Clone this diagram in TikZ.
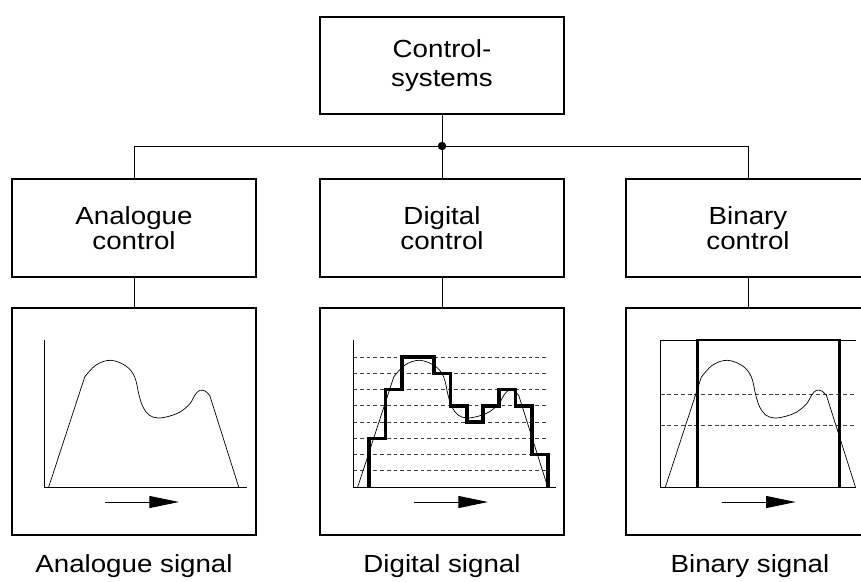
\documentclass[tikz,border=0pt]{standalone}
\usepackage{fontspec}
\setmainfont{Liberation Sans}[FakeStretch=1.12]
\usetikzlibrary{arrows.meta}

\tikzset{
  wire/.style={line width=0.5pt},
  block/.style={draw, line width=1.1pt, minimum width=6.1cm, inner sep=0pt, align=center},
  topbox/.style={block, minimum height=2.425cm, font=\fontsize{17.6}{20.8}\selectfont},
  ctrlbox/.style={block, minimum height=2.45cm, font=\fontsize{17.6}{17.8}\selectfont},
  sigbox/.style={block, minimum height=5.675cm},
  caption/.style={anchor=base, font=\fontsize{17.6}{20}\selectfont},
  level/.style={dash pattern=on 2.8pt off 2pt, line width=0.45pt, black!75},
  stair/.style={line width=2.5pt, line join=miter},
  onoff/.style={line width=2pt, line join=miter},
  flow/.style={line width=0.7pt, -{Triangle[length=21pt, width=8.5pt]}}
}
\newcommand{\drawsignal}{%
  \draw[wire] (4.7,0) -- plot[smooth, tension=0.6] coordinates {(40.7,110) (52,122) (66.7,126.7) (82,121)
    (90.7,110) (95,92) (99,80) (105,72) (114,69) (126,71) (136,75) (145.7,83) (151,92)
    (155.7,96.7) (161,96) (165.7,91.7)} -- (194.7,0);
  \draw[flow] (61,-15) -- (135,-15);}

\begin{document}
\begin{tikzpicture}[x=0.025cm,y=-0.025cm]
  \useasboundingbox (0,0) rectangle (861,581);
  \clip (0,0) rectangle (861,581);

  \node[topbox] (sys) at (442,65.5) {Control-\\systems};
  \coordinate (jn) at (442,146);

  \node[ctrlbox] (ana) at (134,228) {Analogue\\control};
  \node[ctrlbox] (dig) at (442,228) {Digital\\control};
  \node[ctrlbox] (bin) at (748,228) {Binary\\control};

  \node[sigbox] (anasig) at (134,421.5) {};
  \node[sigbox] (digsig) at (442,421.5) {};
  \node[sigbox] (binsig) at (748,421.5) {};

  \draw[wire] (sys) -- (jn);
  \draw[wire] (ana.north) |- (jn);
  \draw[wire] (bin.north) |- (jn);
  \draw[wire] (dig) -- (jn);
  \fill (jn) circle[radius=3pt];

  \draw[wire] (ana) -- (anasig);
  \draw[wire] (dig) -- (digsig);
  \draw[wire] (bin) -- (binsig);

  \begin{scope}[shift={(44,487)}, yscale=-1]
    \draw[wire] (0,147) -- (0,0) -- (203,0);
    \drawsignal
  \end{scope}

  \begin{scope}[shift={(353,487)}, yscale=-1]
    \foreach \k in {1,...,8}
      \draw[level] (0,16.25*\k) -- (195,16.25*\k);
    \draw[wire] (0,147) -- (0,0) -- (203,0);
    \drawsignal
    \draw[stair] (16.25,0) |- (32.5,48.75) |- (48.75,97.5) |- (81.25,130) |- (97.5,113.75)
      |- (113.75,81.25) |- (130,65) |- (146.25,81.25) |- (162.5,97.5) |- (178.75,81.25)
      |- (195,32.5) -- (195,0);
  \end{scope}

  \begin{scope}[shift={(660.7,487)}, yscale=-1]
    \draw[level] (0,93) -- (195.3,93);
    \draw[level] (0,61.7) -- (195.3,61.7);
    \draw[wire] (195.3,147) -- (0,147) -- (0,0) -- (195.3,0);
    \drawsignal
    \draw[onoff] (36.6,0) |- (178.6,147) -- (178.6,0);
  \end{scope}

  \node[caption] (anacap) at (134,572) {Analogue signal};
  \node[caption] (digcap) at (442,572) {Digital signal};
  \node[caption] (bincap) at (750,572) {Binary signal};
\end{tikzpicture}
\end{document}
